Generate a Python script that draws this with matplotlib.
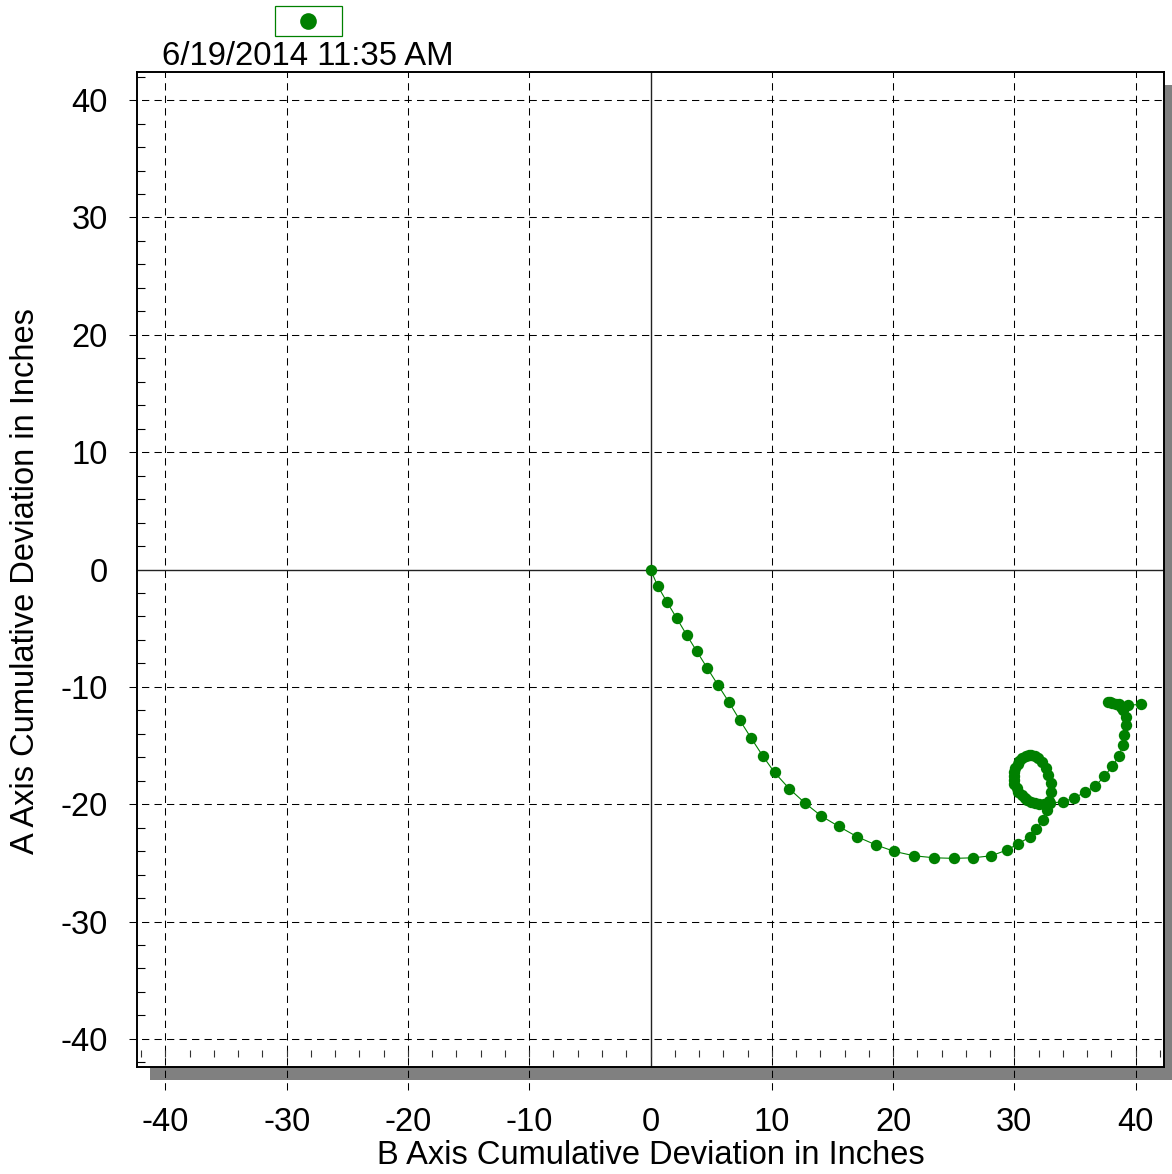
import numpy as np
import matplotlib
matplotlib.use('Agg')
import matplotlib.pyplot as plt
from matplotlib.patches import Rectangle
from matplotlib.lines import Line2D
from matplotlib.ticker import MultipleLocator

# B axis (x) and A axis (y) cumulative deviation, inches
b_dev = [0.00, 0.60, 1.38, 2.17, 2.99, 3.82, 4.68, 5.58, 6.46, 7.36, 8.27, 9.24,
         10.23, 11.46, 12.78, 14.10, 15.53, 17.05, 18.56, 20.12, 21.75, 23.40,
         25.05, 26.58, 28.10, 29.39, 30.29, 31.31, 31.81, 32.35, 32.66, 32.87,
         32.99, 32.99, 32.82, 32.58, 32.25, 31.92, 31.67, 31.42, 31.18, 30.93,
         30.68, 30.43, 30.27, 30.10, 30.02, 29.94, 29.94, 30.02, 30.19, 30.35,
         30.60, 30.85, 31.09, 31.42, 31.75, 32.08, 32.49, 32.91, 34.00, 34.89,
         35.85, 36.70, 37.44, 38.08, 38.62, 38.95, 39.09, 39.18, 39.18, 39.00,
         38.82, 38.41, 37.91, 37.70, 38.10, 38.60, 39.41, 40.47]
a_dev = [0.00, -1.42, -2.81, -4.17, -5.59, -6.98, -8.40, -9.87, -11.29, -12.83,
         -14.32, -15.86, -17.30, -18.70, -19.94, -21.02, -21.90, -22.78, -23.46,
         -24.03, -24.40, -24.57, -24.62, -24.57, -24.40, -23.91, -23.40, -22.78,
         -22.15, -21.36, -20.51, -19.74, -18.98, -18.21, -17.53, -16.94, -16.43,
         -16.09, -15.91, -15.83, -15.83, -15.91, -16.09, -16.34, -16.60, -16.94,
         -17.28, -17.62, -17.96, -18.30, -18.64, -18.98, -19.23, -19.49, -19.66,
         -19.83, -19.91, -19.96, -19.96, -19.91, -19.80, -19.49, -18.98, -18.44,
         -17.62, -16.77, -15.91, -14.98, -14.13, -13.28, -12.57, -12.00, -11.72,
         -11.43, -11.29, -11.25, -11.35, -11.50, -11.57, -11.49]

major_ticks = [-40, -30, -20, -10, 0, 10, 20, 30, 40]
title = '6/19/2014 11:35 AM'
green = '#008000'

plt.rcParams['font.family'] = ['Liberation Sans', 'DejaVu Sans']
plt.rcParams['axes.unicode_minus'] = False

W, H = 1172, 1174
fig = plt.figure(figsize=(W / 100, H / 100), dpi=100)
ax = fig.add_axes([137 / W, 1 - 1067 / H, 1027 / W, 995 / H])

# drop shadow behind the plot box
fig.patches.append(Rectangle((150 / W, 1 - 1080 / H), 1030 / W, 995 / H,
                             transform=fig.transFigure, facecolor='#808080',
                             edgecolor='none', zorder=-1))

ax.set_xlim(-42.35, 42.35)
ax.set_ylim(-42.4, 42.4)

# dashed grid, running a bit past the box like the original
for v in major_ticks:
    if v == 0:
        continue
    ax.axvline(v, ymin=-0.0231, ymax=1, color='black', lw=0.75, dashes=(7, 5),
               clip_on=False, zorder=1)
    ax.axhline(v, xmin=-0.0078, xmax=1, color='black', lw=0.75, dashes=(7, 5),
               clip_on=False, zorder=1)
ax.axvline(0, color='#222222', lw=1.0, zorder=1)
ax.axhline(0, color='#222222', lw=1.0, zorder=1)

# little inside ticks along the bottom
ax.vlines(np.arange(-42, 43, 2), 0.010, 0.017, transform=ax.get_xaxis_transform(),
          color='#333333', lw=0.8, zorder=1)

ax.plot(b_dev, a_dev, color=green, lw=0.8, marker='o', ms=8.2,
        markeredgewidth=0, zorder=3)

ax.set_xticks(major_ticks)
ax.set_yticks(major_ticks)
ax.yaxis.set_minor_locator(MultipleLocator(2))
ax.tick_params(axis='both', which='major', length=0, labelsize=23.5)
ax.tick_params(axis='x', which='major', pad=29)
ax.tick_params(axis='y', which='major', pad=21)
ax.tick_params(axis='y', which='minor', direction='in', length=5.8, width=0.8)

for s in ax.spines.values():
    s.set_linewidth(1.4)
    s.set_color('black')

ax.set_xlabel('B Axis Cumulative Deviation in Inches', fontsize=23.5)
ax.set_ylabel('A Axis Cumulative Deviation in Inches', fontsize=23.5)
ax.xaxis.set_label_coords(0.5, -0.073)
ax.yaxis.set_label_coords(-0.093, 0.488)

fig.text(162 / W, 1 - 65 / H, title, fontsize=23.7, ha='left', va='baseline')

# legend box with the marker only
fig.patches.append(Rectangle((275 / W, 1 - 36 / H), 67 / W, 30 / H,
                             transform=fig.transFigure, facecolor='white',
                             edgecolor=green, lw=0.9))
fig.add_artist(Line2D([308 / W], [1 - 21 / H], transform=fig.transFigure,
                      marker='o', ms=12, color=green, markeredgewidth=0, ls='none'))

fig.savefig('out.png', dpi=100)
